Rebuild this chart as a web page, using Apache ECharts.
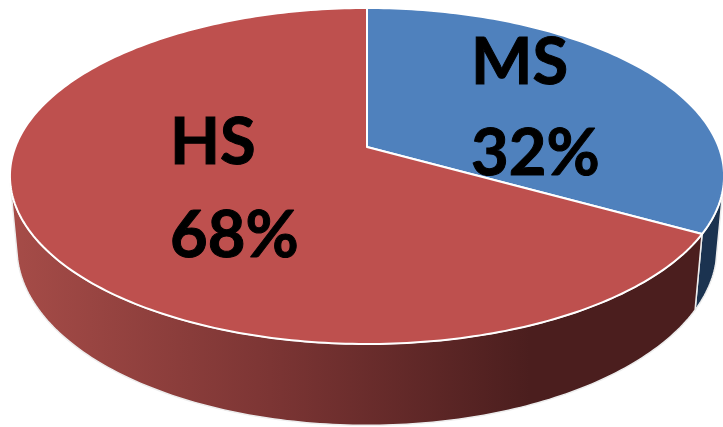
<!DOCTYPE html>
<html>
<head>
<meta charset="utf-8">
<style>
  html, body { margin: 0; padding: 0; background: #fff; }
  #chart { width: 723px; height: 427px; }
</style>
</head>
<body>
<div id="chart"></div>
<script src="https://cdn.jsdelivr.net/npm/echarts@6/dist/echarts.min.js"></script>
<script>
const categories = ['MS', 'HS'];
const shares = [32, 68];

const faceColors = ['#4F81BD', '#BE504E'];
const sideColors = ['#1B3350', null];
const labelSpots = [[471, 31, 122], [170, 111, 204]];
// part of each slice's rim where the wall can be seen
const sideLimits = [[100, 360], [0, 262]];

// the disc as the picture sees it: perspective view of a circle
const view = { cx: 367, cy: 147, a: 351.7, b: 163, k: 0.1726, drop: 72.7, dropW: 0.0195 };
// office's 3d view bends the slice angles a little
const bend = 4.5;

function project(deg, lower) {
	const r = (deg + bend * Math.sin(deg * Math.PI / 180)) * Math.PI / 180;
	const u = Math.sin(r);
	const v = -Math.cos(r);
	const z = lower ? 1 : 0;
	const w = 1 - view.k * v + view.dropW * z;
	return [view.cx + view.a * u / w, view.cy + (view.b * v + view.drop * z) / w];
}

function rim(from, to, lower) {
	const pts = [];
	const steps = Math.ceil(Math.abs(to - from));
	for (let i = 0; i <= steps; i++) {
		pts.push(project(from + (to - from) * i / steps, lower));
	}
	return pts;
}

const total = shares.reduce((s, v) => s + v, 0);
function sliceRange(i) {
	const before = shares.slice(0, i).reduce((s, v) => s + v, 0);
	return [before / total * 360, (before + shares[i]) / total * 360];
}

const redSide = new echarts.graphic.LinearGradient(10, 0, 530, 0, [
	{ offset: 0, color: '#A64C48' },
	{ offset: 0.5, color: '#7C3534' },
	{ offset: 1, color: '#4B1E1E' },
], true);

function renderSide(params) {
	const i = params.dataIndex;
	const range = sliceRange(i);
	const from = Math.max(range[0], sideLimits[i][0]);
	const to = Math.min(range[1], sideLimits[i][1]);
	return {
		type: 'polygon',
		shape: { points: rim(from, to, false).concat(rim(to, from, true)) },
		style: { fill: sideColors[i] || redSide, stroke: '#EDEDED', lineWidth: 1.5, lineJoin: 'round' },
	};
}

function renderFace(params) {
	const i = params.dataIndex;
	const [from, to] = sliceRange(i);
	return {
		type: 'polygon',
		shape: { points: [[view.cx, view.cy]].concat(rim(from, to, false)) },
		style: { fill: faceColors[i], stroke: '#fff', lineWidth: 2, lineJoin: 'round' },
	};
}

const labelFont = 'bold 65px Lato, "Open Sans", sans-serif';
function labelText(x, y, text) {
	return { type: 'text', style: { x: x, y: y, text: text, font: labelFont, fill: '#000', stroke: '#000', lineWidth: 1 } };
}

function renderLabel(params) {
	const i = params.dataIndex;
	const [x, y1, y2] = labelSpots[i];
	return {
		type: 'group',
		children: [labelText(x, y1, categories[i]), labelText(x, y2, shares[i] + '%')],
	};
}

const chart = echarts.init(document.getElementById('chart'), null, { renderer: 'canvas' });
const rows = categories.map((name, i) => ({ name: name, value: shares[i] }));
chart.setOption({
	animation: false,
	backgroundColor: '#fff',
	series: [
		{ type: 'custom', coordinateSystem: 'none', z: 1, silent: true, renderItem: renderSide, data: rows },
		{ type: 'custom', coordinateSystem: 'none', z: 2, silent: true, renderItem: renderFace, data: rows },
		{ type: 'custom', coordinateSystem: 'none', z: 3, silent: true, renderItem: renderLabel, data: rows },
	],
});
</script>
</body>
</html>
